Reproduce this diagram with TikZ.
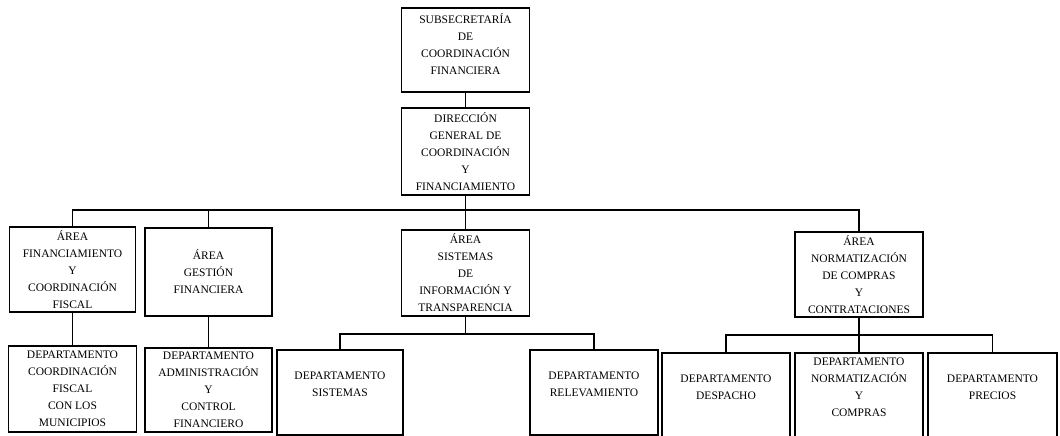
\documentclass[tikz,border=0pt]{standalone}
\usepackage{fontspec}
\setmainfont{Liberation Serif}
\begin{document}
\begin{tikzpicture}[x=1pt, y=-1pt, line width=1.2pt,
        unit/.style={draw, rectangle, align=center, inner sep=0pt,
            minimum width=128pt, minimum height=85pt,
            font=\fontsize{11.5}{17}\selectfont}]
        \useasboundingbox (0,0) rectangle (1060,436);
        \node[unit, minimum height=84pt] (subsec) at (465.5,50) {SUBSECRETARÍA\\DE\\COORDINACIÓN\\FINANCIERA\\[-5pt]~};
        \node[unit, minimum height=87pt] (dir) at (465.5,151.5) {DIRECCIÓN\\GENERAL DE\\COORDINACIÓN\\Y\\FINANCIAMIENTO};
        % areas
        \node[unit, minimum width=126pt] (afin) at (72.5,269.5) {ÁREA\\FINANCIAMIENTO\\Y\\COORDINACIÓN\\FISCAL};
        \node[unit, minimum width=127pt, minimum height=88pt] (agest) at (208.5,272) {ÁREA\\GESTIÓN\\FINANCIERA};
        \node[unit, minimum height=86pt] (asis) at (465.5,273) {ÁREA\\SISTEMAS\\DE\\INFORMACIÓN Y\\TRANSPARENCIA};
        \node[unit] (anorm) at (859,274.5) {ÁREA\\NORMATIZACIÓN\\DE COMPRAS\\Y\\CONTRATACIONES};
        % departamentos
        \node[unit, minimum height=86pt] (dcoord) at (72.5,389) {DEPARTAMENTO\\COORDINACIÓN\\FISCAL\\CON LOS\\MUNICIPIOS};
        \node[unit, minimum width=127pt, minimum height=84pt] (dadmin) at (208.5,390) {DEPARTAMENTO\\ADMINISTRACIÓN\\Y\\CONTROL\\FINANCIERO};
        \node[unit, minimum width=126pt] (dsis) at (340,392.5) {DEPARTAMENTO\\SISTEMAS\\~};
        \node[unit] (drel) at (594,392.5) {DEPARTAMENTO\\RELEVAMIENTO\\~};
        \node[unit] (ddesp) at (726,395.5) {DEPARTAMENTO\\DESPACHO\\~};
        \node[unit] (dnorm) at (859,395.5) {DEPARTAMENTO\\NORMATIZACIÓN\\Y\\COMPRAS\\~};
        \node[unit, minimum width=129pt] (dprec) at (992.5,395.5) {DEPARTAMENTO\\PRECIOS\\~};
        % lineas
        \coordinate (bus1) at (465.5,210);
        \coordinate (bus2) at (465.5,334);
        \coordinate (bus3) at (859,335);
        \draw (subsec) -- (dir);
        \draw (dir) -- (bus1);
        \draw (afin) |- (bus1) -| (anorm);
        \draw (agest) -- (agest |- bus1);
        \draw (asis) -- (bus1);
        \draw (afin) -- (dcoord);
        \draw (agest) -- (dadmin);
        \draw (asis) -- (bus2);
        \draw (dsis) |- (bus2) -| (drel);
        \draw (anorm) -- (bus3);
        \draw (ddesp) |- (bus3) -| (dprec);
        \draw (dnorm) -- (bus3);
    \end{tikzpicture}
\end{document}
